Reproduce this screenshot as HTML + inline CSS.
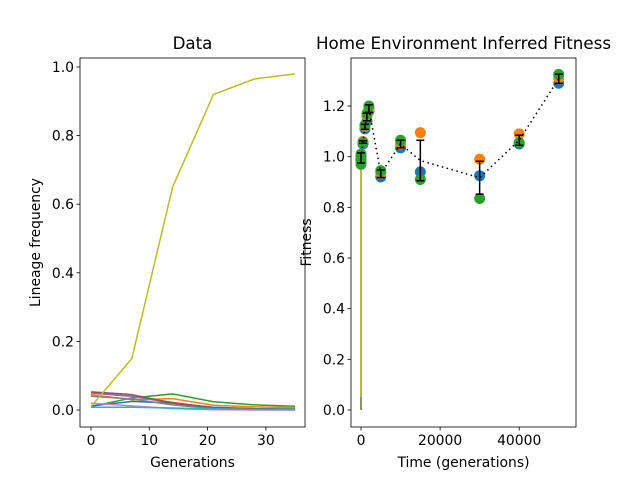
<!DOCTYPE html>
<html><head><meta charset="utf-8"><style>
body{margin:0;background:#fff}
svg text{font-family:"DejaVu Sans","Liberation Sans",sans-serif;fill:#000}
</style></head><body>
<svg id="c" width="640" height="480" xmlns="http://www.w3.org/2000/svg"></svg>
<script>
const gens=[0,7,14,21,28,35];
const lineageYellow=[0.01,0.15,0.65,0.92,0.965,0.98];
const lineageGreen=[0.01,0.035,0.047,0.024,0.015,0.011];
const lineageOrange=[0.045,0.03,0.033,0.014,0.009,0.007];
const lineageBlue=[0.012,0.025,0.02,0.008,0.004,0.003];
const lineageRed=[0.05,0.04,0.022,0.006,0.003,0.002];
const lineagePurple=[0.05,0.04,0.02,0.005,0.002,0.001];
const lineageBrown=[0.053,0.045,0.02,0.005,0.002,0.001];
const lineagePink=[0.02,0.012,0.004,0.001,0.0,0.0];
const lineageGray=[0.04,0.032,0.015,0.004,0.002,0.001];
const lineageCyan=[0.008,0.008,0.006,0.003,0.002,0.001];
const times=[0,500,1000,1500,2000,5000,10000,15000,30000,40000,50000];
const fitBlue=[0.99,1.05,1.11,1.14,1.18,0.92,1.035,0.94,0.925,1.05,1.29];
const fitOrange=[1.0,1.06,1.12,1.16,1.19,0.935,1.05,1.095,0.99,1.09,1.31];
const fitGreen=[0.97,1.055,1.125,1.17,1.2,0.945,1.065,0.91,0.835,1.055,1.325];
const fitMean=[0.995,1.058,1.118,1.157,1.19,0.933,1.05,0.985,0.917,1.065,1.308];
const fitErr=[0.02,0.005,0.01,0.015,0.015,0.015,0.015,0.08,0.065,0.02,0.018];
const leftXTicks=[0,10,20,30], leftYTicks=[0,0.2,0.4,0.6,0.8,1.0];
const rightXTicks=[0,20000,40000], rightYTicks=[0,0.2,0.4,0.6,0.8,1.0,1.2];

const svg=document.getElementById('c');const NS='http://www.w3.org/2000/svg';
function el(t,a,p){const e=document.createElementNS(NS,t);for(const k in a)e.setAttribute(k,a[k]);(p||svg).appendChild(e);return e;}
const lx=v=>91+v*5.83, ly=v=>410-v*343;
const rx=v=>361+v*0.003955, ry=v=>410-v*253.3;

const series=[lineageGreen,lineageOrange,lineageBlue,lineageRed,lineagePurple,lineageBrown,lineagePink,lineageGray,lineageCyan,lineageYellow];
const sColors=['#2ca02c','#ff7f0e','#1f77b4','#d62728','#9467bd','#8c564b','#e377c2','#7f7f7f','#17becf','#bcbd22'];
series.forEach((s,i)=>{const p=el('polyline',{points:s.map((v,j)=>lx(gens[j])+','+ly(v)).join(' '),fill:'none',stroke:sColors[i],'stroke-width':1.5});
});

function axes(x0,x1,y0,y1,xt,xf,yt,yf,xlab,ylab,title,fmtx,fmty,pre,ylx){
 const r=el('rect',{x:x0,y:y0,width:x1-x0,height:y1-y0,fill:'none',stroke:'#000','stroke-width':0.8});
 
 xt.forEach(v=>{const x=xf(v);el('line',{x1:x,x2:x,y1:y1,y2:y1+3.5,stroke:'#000','stroke-width':0.8});
  const t=el('text',{x:x,y:y1+18,'font-size':13.9,'text-anchor':'middle'});t.textContent=fmtx(v);
  });
 yt.forEach(v=>{const y=yf(v);el('line',{x1:x0-3.5,x2:x0,y1:y,y2:y,stroke:'#000','stroke-width':0.8});
  const t=el('text',{x:x0-6,y:y+5,'font-size':13.9,'text-anchor':'end'});t.textContent=fmty(v);
  });
 let t=el('text',{x:(x0+x1)/2,y:y1+40,'font-size':13.9,'text-anchor':'middle'});t.textContent=xlab;
 
 t=el('text',{x:0,y:0,'font-size':13.9,'text-anchor':'middle',transform:`translate(${ylx},${(y0+y1)/2}) rotate(-90)`});t.textContent=ylab;
 
 t=el('text',{x:(x0+x1)/2,y:y0-9,'font-size':16.7,'text-anchor':'middle'});t.textContent=title;
 
}
axes(80,305,58,427,leftXTicks,lx,leftYTicks,ly,'Generations','Lineage frequency','Data',v=>String(v),v=>v.toFixed(1),'left',40);

let v=el('line',{x1:rx(0),x2:rx(0),y1:ry(0),y2:ry(0.97),stroke:'#bcbd22','stroke-width':2});

el('line',{x1:rx(0),x2:rx(0),y1:ry(0),y2:ry(0.05),stroke:'#7f7f7f','stroke-width':1.5});
[[fitBlue,'#1f77b4'],[fitOrange,'#ff7f0e'],[fitGreen,'#2ca02c']].forEach(([s,c])=>{
 s.forEach((val,i)=>{const p=el('circle',{cx:rx(times[i]),cy:ry(val),r:5.5,fill:c});
 });});
[0.98,1.0,1.01,0.99].forEach(val=>el('circle',{cx:rx(0),cy:ry(val),r:5.5,fill:'#2ca02c'}));
const m=el('polyline',{points:fitMean.map((val,i)=>rx(times[i])+','+ry(val)).join(' '),fill:'none',stroke:'#000','stroke-width':1.5,'stroke-dasharray':'1.5,3.5'});

fitMean.forEach((val,i)=>{const x=rx(times[i]),a=ry(val+fitErr[i]),b=ry(val-fitErr[i]);
 const g=el('g',{});
 el('line',{x1:x,x2:x,y1:a,y2:b,stroke:'#000','stroke-width':1.5},g);
 el('line',{x1:x-4,x2:x+4,y1:a,y2:a,stroke:'#000','stroke-width':1.5},g);
 el('line',{x1:x-4,x2:x+4,y1:b,y2:b,stroke:'#000','stroke-width':1.5},g);});
axes(351,576,58,427,rightXTicks,rx,rightYTicks,ry,'Time (generations)','Fitness','Home Environment Inferred Fitness',v=>String(v),v=>v.toFixed(1),'right',311);
</script>
</body></html>
